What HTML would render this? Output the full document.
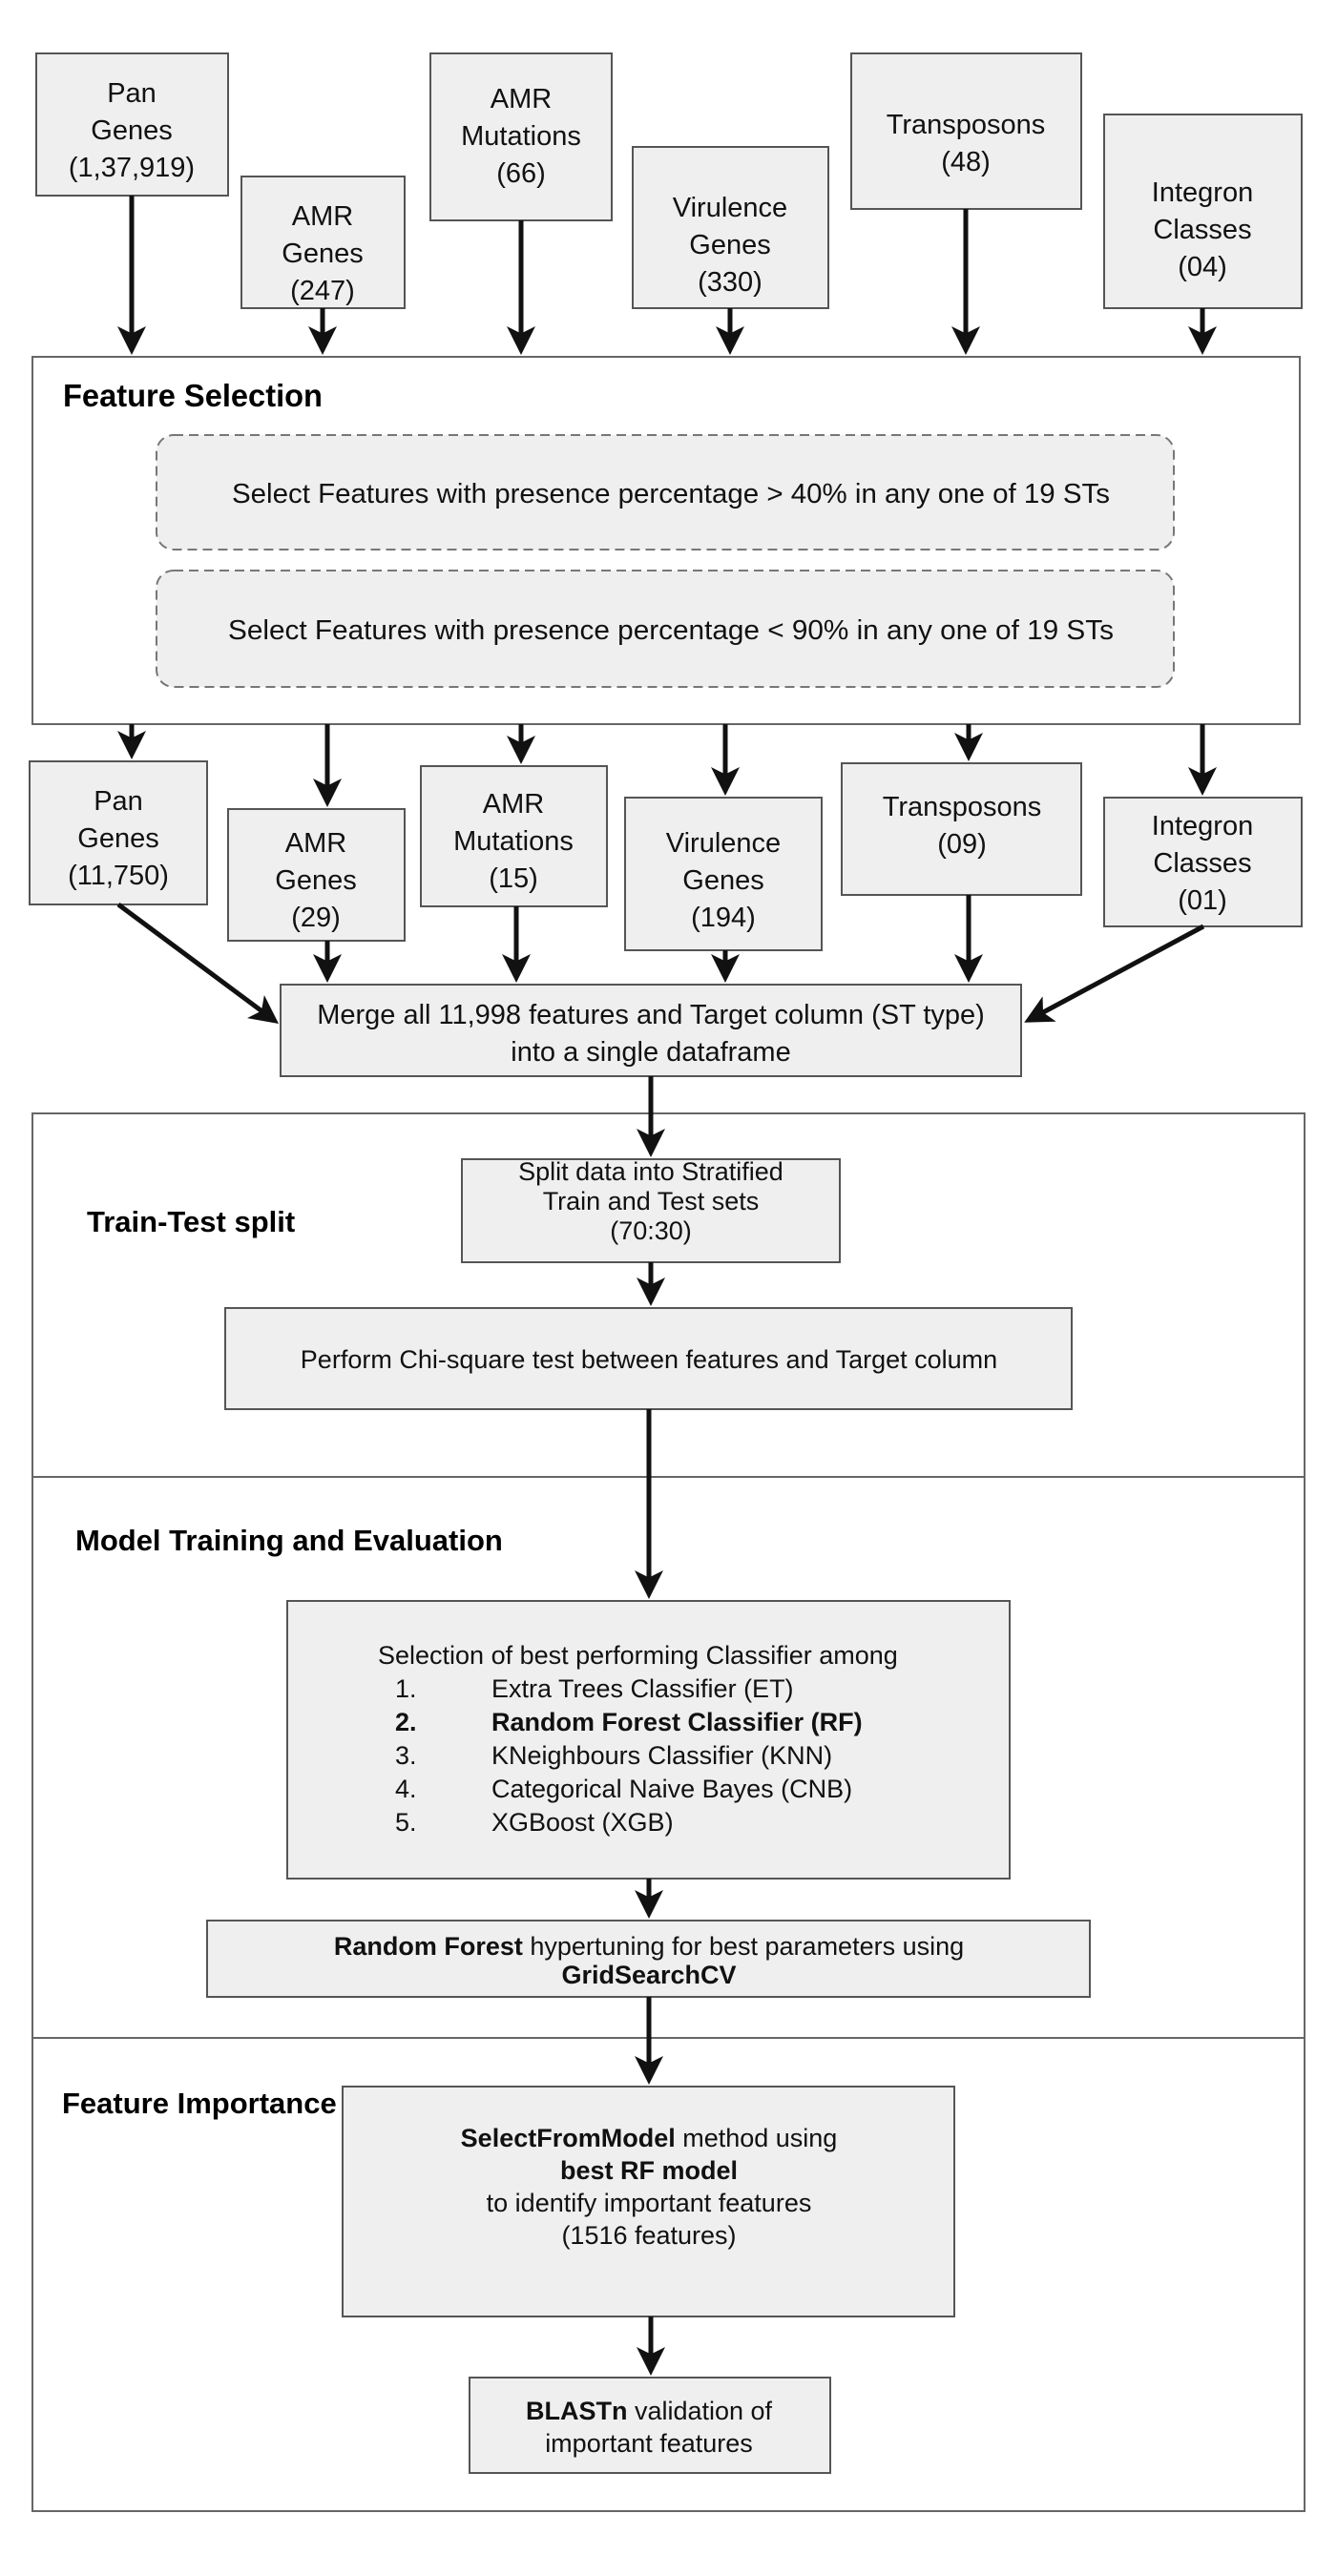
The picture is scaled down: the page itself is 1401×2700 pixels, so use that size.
<!DOCTYPE html>
<html><head><meta charset="utf-8"><style>
html,body{margin:0;padding:0;background:#fff}
svg{display:block}
.n{font-family:"Liberation Sans Narrow","Liberation Sans",sans-serif;font-size:29px;fill:#111}
.t{font-family:"Liberation Sans",sans-serif;font-size:27px;fill:#111}
.h{font-family:"Liberation Sans",sans-serif;font-weight:bold;font-size:31px;fill:#000}
.b{fill:#efefef;stroke:#555;stroke-width:2}
.a{stroke:#111;stroke-width:5;fill:none}
</style></head><body>
<svg width="1401" height="2700" viewBox="0 0 1401 2700" xmlns="http://www.w3.org/2000/svg">
<defs><marker id="m" markerWidth="6" markerHeight="6" refX="4" refY="3" orient="auto" markerUnits="strokeWidth"><path d="M0,0 L6,3 L0,6 L1.5,3 z" fill="#111"/></marker></defs>
<rect x="34" y="374" width="1328" height="385" fill="#fff" stroke="#666" stroke-width="2"/>
<rect x="34" y="1167" width="1333" height="1465" fill="#fff" stroke="#666" stroke-width="2"/>
<line x1="34" y1="1548" x2="1367" y2="1548" stroke="#666" stroke-width="2"/>
<line x1="34" y1="2136" x2="1367" y2="2136" stroke="#666" stroke-width="2"/>
<text class="h" x="66" y="426" textLength="272" lengthAdjust="spacingAndGlyphs" style="font-size:33px">Feature Selection</text>
<text class="h" x="91" y="1291">Train-Test split</text>
<text class="h" x="79" y="1625">Model Training and Evaluation</text>
<text class="h" x="65" y="2215">Feature Importance</text>
<rect x="164" y="456" width="1066" height="120" rx="18" fill="#efefef" stroke="#777" stroke-width="2" stroke-dasharray="10,6"/>
<rect x="164" y="598" width="1066" height="122" rx="18" fill="#efefef" stroke="#777" stroke-width="2" stroke-dasharray="10,6"/>
<text class="n" x="243" y="527" textLength="920" lengthAdjust="spacingAndGlyphs">Select Features with presence percentage &gt; 40% in any one of 19 STs</text>
<text class="n" x="239" y="670" textLength="928" lengthAdjust="spacingAndGlyphs">Select Features with presence percentage &lt; 90%  in any one of 19 STs</text>
<g class="b">
<rect x="38" y="56" width="201" height="149"/>
<rect x="253" y="185" width="171" height="138"/>
<rect x="451" y="56" width="190" height="175"/>
<rect x="663" y="154" width="205" height="169"/>
<rect x="892" y="56" width="241" height="163"/>
<rect x="1157" y="120" width="207" height="203"/>
<rect x="31" y="798" width="186" height="150"/>
<rect x="239" y="848" width="185" height="138"/>
<rect x="441" y="803" width="195" height="147"/>
<rect x="655" y="836" width="206" height="160"/>
<rect x="882" y="800" width="251" height="138"/>
<rect x="1157" y="836" width="207" height="135"/>
<rect x="294" y="1032" width="776" height="96"/>
<rect x="484" y="1215" width="396" height="108"/>
<rect x="236" y="1371" width="887" height="106"/>
<rect x="301" y="1678" width="757" height="291"/>
<rect x="217" y="2013" width="925" height="80"/>
<rect x="359" y="2187" width="641" height="241"/>
<rect x="492" y="2492" width="378" height="100"/>
</g>
<g class="n" text-anchor="middle">
<text x="138" y="107">Pan</text><text x="138" y="146">Genes</text><text x="138" y="185">(1,37,919)</text>
<text x="338" y="236">AMR</text><text x="338" y="275">Genes</text><text x="338" y="314">(247)</text>
<text x="546" y="113">AMR</text><text x="546" y="152">Mutations</text><text x="546" y="191">(66)</text>
<text x="765" y="227">Virulence</text><text x="765" y="266">Genes</text><text x="765" y="305">(330)</text>
<text x="1012" y="140">Transposons</text><text x="1012" y="179">(48)</text>
<text x="1260" y="211">Integron</text><text x="1260" y="250">Classes</text><text x="1260" y="289">(04)</text>
<text x="124" y="849">Pan</text><text x="124" y="888">Genes</text><text x="124" y="927">(11,750)</text>
<text x="331" y="893">AMR</text><text x="331" y="932">Genes</text><text x="331" y="971">(29)</text>
<text x="538" y="852">AMR</text><text x="538" y="891">Mutations</text><text x="538" y="930">(15)</text>
<text x="758" y="893">Virulence</text><text x="758" y="932">Genes</text><text x="758" y="971">(194)</text>
<text x="1008" y="855">Transposons</text><text x="1008" y="894">(09)</text>
<text x="1260" y="875">Integron</text><text x="1260" y="914">Classes</text><text x="1260" y="953">(01)</text>
<text x="682" y="1073">Merge all 11,998 features and Target column (ST type)</text>
<text x="682" y="1112">into a single dataframe</text>
</g>
<g class="t" text-anchor="middle">
<text x="682" y="1237">Split data into Stratified</text>
<text x="682" y="1268">Train and Test sets</text>
<text x="682" y="1299">(70:30)</text>
<text x="680" y="1434">Perform Chi-square test between features and Target column</text>
<text x="680" y="2049"><tspan font-weight="bold">Random Forest</tspan> hypertuning for best parameters using</text>
<text x="680" y="2079" font-weight="bold">GridSearchCV</text>
<text x="680" y="2250"><tspan font-weight="bold">SelectFromModel</tspan> method using</text>
<text x="680" y="2284" font-weight="bold">best RF model</text>
<text x="680" y="2318">to identify important features</text>
<text x="680" y="2352">(1516 features)</text>
<text x="680" y="2536"><tspan font-weight="bold">BLASTn</tspan> validation of</text>
<text x="680" y="2570">important features</text>
</g>
<g class="t">
<text x="396" y="1744">Selection of best performing Classifier among</text>
<text x="414" y="1779">1.</text><text x="515" y="1779">Extra Trees Classifier (ET)</text>
<text x="414" y="1814" font-weight="bold">2.</text><text x="515" y="1814" font-weight="bold">Random Forest Classifier (RF)</text>
<text x="414" y="1849">3.</text><text x="515" y="1849">KNeighbours Classifier (KNN)</text>
<text x="414" y="1884">4.</text><text x="515" y="1884">Categorical Naive Bayes (CNB)</text>
<text x="414" y="1919">5.</text><text x="515" y="1919">XGBoost (XGB)</text>
</g>
<g class="a" marker-end="url(#m)">
<line x1="138" y1="205" x2="138" y2="362"/>
<line x1="338" y1="323" x2="338" y2="362"/>
<line x1="546" y1="231" x2="546" y2="362"/>
<line x1="765" y1="323" x2="765" y2="362"/>
<line x1="1012" y1="219" x2="1012" y2="362"/>
<line x1="1260" y1="323" x2="1260" y2="362"/>
<line x1="138" y1="759" x2="138" y2="786"/>
<line x1="343" y1="759" x2="343" y2="836"/>
<line x1="546" y1="759" x2="546" y2="791"/>
<line x1="760" y1="759" x2="760" y2="824"/>
<line x1="1015" y1="759" x2="1015" y2="788"/>
<line x1="1260" y1="759" x2="1260" y2="824"/>
<line x1="124" y1="948" x2="284" y2="1067"/>
<line x1="343" y1="986" x2="343" y2="1020"/>
<line x1="541" y1="950" x2="541" y2="1020"/>
<line x1="760" y1="996" x2="760" y2="1020"/>
<line x1="1015" y1="938" x2="1015" y2="1020"/>
<line x1="1261" y1="971" x2="1082" y2="1067"/>
<line x1="682" y1="1128" x2="682" y2="1203"/>
<line x1="682" y1="1323" x2="682" y2="1359"/>
<line x1="680" y1="1477" x2="680" y2="1666"/>
<line x1="680" y1="1969" x2="680" y2="2001"/>
<line x1="680" y1="2093" x2="680" y2="2175"/>
<line x1="682" y1="2428" x2="682" y2="2480"/>
</g>
</svg>
</body></html>
